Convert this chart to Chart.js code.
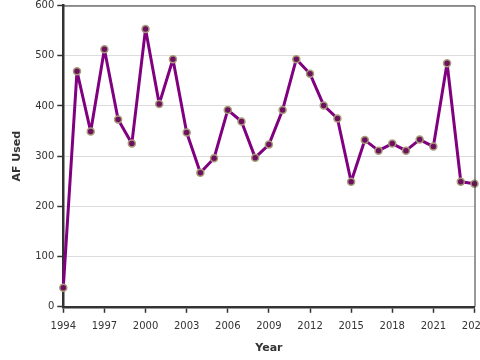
<!DOCTYPE html>
<html>
<head>
<meta charset="utf-8">
<script src="https://cdn.jsdelivr.net/npm/chart.js@4/dist/chart.umd.min.js"></script>
<style>
  html, body { margin: 0; padding: 0; background: #fff; overflow: hidden; width: 480px; height: 360px; }
  #wrap { position: relative; width: 480px; height: 360px; }
</style>
</head>
<body>
<div id="wrap"><canvas id="c"></canvas></div>
<script>
const years = [1994,1995,1996,1997,1998,1999,2000,2001,2002,2003,2004,2005,2006,2007,2008,2009,2010,2011,2012,2013,2014,2015,2016,2017,2018,2019,2020,2021,2022,2023,2024];
const afUsed = [38,469,349,513,373,325,553,404,493,347,267,296,392,369,297,323,392,493,464,401,375,249,332,311,325,311,333,319,485,249,245];
const yTicks = [0,100,200,300,400,500,600];
const xTickStep = 3;

const framePlugin = {
  id: 'frame',
  afterDraw(chart) {
    const {ctx, chartArea: a} = chart;
    ctx.save();
    ctx.strokeStyle = '#333';
    ctx.lineWidth = 1;
    ctx.beginPath();
    ctx.moveTo(a.left, a.top + 0.5);
    ctx.lineTo(a.right + 0.5, a.top + 0.5);
    ctx.lineTo(a.right + 0.5, a.bottom);
    ctx.stroke();
    ctx.restore();
  }
};

new Chart(document.getElementById('c'), {
  type: 'line',
  data: {
    datasets: [{
      data: years.map((y, i) => ({x: y, y: afUsed[i]})),
      borderColor: '#800080',
      borderWidth: 3,
      borderJoinStyle: 'round',
      borderCapStyle: 'round',
      backgroundColor: '#6e1060',
      pointBackgroundColor: '#6e1060',
      pointBorderColor: '#a89c78',
      pointBorderWidth: 1.5,
      pointRadius: 3.5,
      tension: 0,
      clip: false
    }]
  },
  options: {
    responsive: true,
    maintainAspectRatio: false,
    animation: false,
    layout: { padding: { top: 5, left: 11, right: 4, bottom: 5 } },
    plugins: { legend: { display: false }, tooltip: { enabled: false } },
    scales: {
      x: {
        type: 'linear',
        min: 1994, max: 2024,
        afterFit: s => { s.paddingRight = 0; },
        ticks: { stepSize: xTickStep, color: '#333', font: { family: 'DejaVu Sans', size: 10 }, callback: v => String(v), maxRotation: 0, padding: 8 },
        grid: { drawOnChartArea: false, drawTicks: true, tickLength: 6, tickColor: '#333', tickWidth: 1.5 },
        border: { display: true, color: '#333', width: 2.5 },
        title: { display: true, text: 'Year', color: '#333', font: { family: 'DejaVu Sans', size: 11, weight: 'bold' }, padding: { top: 1, bottom: 0 } }
      },
      y: {
        type: 'linear',
        min: 0, max: 600,
        afterBuildTicks: axis => { axis.ticks = yTicks.map(v => ({value: v})); },
        afterFit: s => { s.paddingTop = 0; },
        ticks: { color: '#333', font: { family: 'DejaVu Sans', size: 10 }, padding: 3 },
        grid: { color: '#dcdcdc', lineWidth: 1, tickLength: 6, tickColor: '#333', tickWidth: 1.5 },
        border: { display: true, color: '#333', width: 2.5 },
        title: { display: true, text: 'AF Used', color: '#333', font: { family: 'DejaVu Sans', size: 11, weight: 'bold' }, padding: { top: 0, bottom: 8 } }
      }
    }
  },
  plugins: [framePlugin]
});
</script>
</body>
</html>
